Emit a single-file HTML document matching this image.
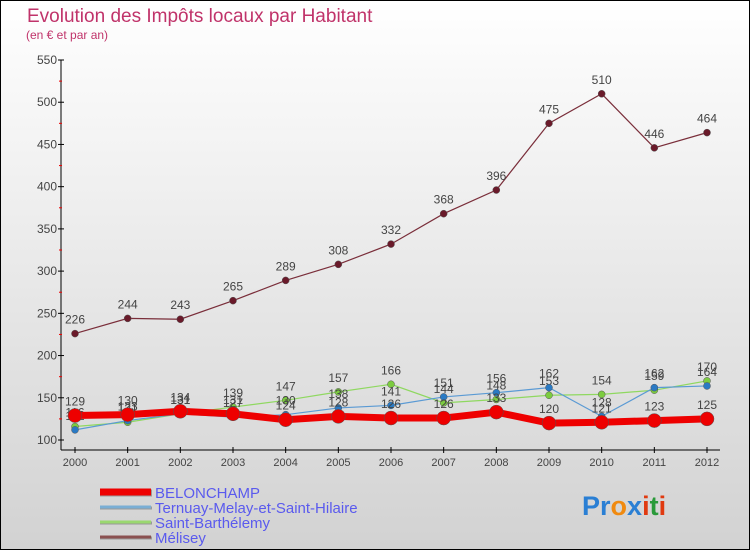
<!DOCTYPE html>
<html><head><meta charset="utf-8"><style>
body{margin:0;}
svg{display:block;font-family:"Liberation Sans",sans-serif;}
</style></head><body>
<svg id="chart" width="750" height="550" viewBox="0 0 750 550">
<defs><linearGradient id="bg" x1="0" y1="0" x2="0" y2="1"><stop offset="0" stop-color="#ffffff"/><stop offset="1" stop-color="#d2d2d2"/></linearGradient></defs>
<rect x="0.5" y="0.5" width="749" height="549" fill="url(#bg)" stroke="#000"/>
<text x="27" y="22" font-size="19" fill="#c0336a">Evolution des Impôts locaux par Habitant</text>
<text x="26" y="39" font-size="12" fill="#c0336a">(en € et par an)</text>
<g id="axes"></g>
<g id="series"></g>
<g id="legend"></g>
<text x="582" y="515" font-size="27" font-weight="bold"><tspan fill="#2a7fd4">Pr</tspan><tspan fill="#f08a10">o</tspan><tspan fill="#2a7fd4">x</tspan><tspan fill="#e03a10">i</tspan><tspan fill="#2a9a3a">t</tspan><tspan fill="#e03a10">i</tspan></text>
</svg>
<script>
const years=[2000,2001,2002,2003,2004,2005,2006,2007,2008,2009,2010,2011,2012];
const belonchamp=[129,130,134,131,124,128,126,126,133,120,121,123,125];
const ternuay=[112,123,131,127,130,138,141,151,156,162,128,162,164];
const barthelemy=[116,121,131,139,147,157,166,144,148,153,154,159,170];
const melisey=[226,244,243,265,289,308,332,368,396,475,510,446,464];
const yTicks=[100,150,200,250,300,350,400,450,500,550];
const NS="http://www.w3.org/2000/svg";
const x=i=>75+i*(707-75)/12;
const y=v=>440-(v-100)*380/450;
function mk(t,a,p){const e=document.createElementNS(NS,t);for(const k in a)e.setAttribute(k,a[k]);p.appendChild(e);return e;}
const ax=document.getElementById('axes');
let l=mk('line',{x1:61,y1:60,x2:61,y2:450,stroke:'#000'},ax);


l=mk('line',{x1:61,y1:450,x2:720,y2:450,stroke:'#000'},ax);


yTicks.forEach((v,i)=>{
 mk('line',{x1:58,y1:y(v),x2:64,y2:y(v),stroke:'#000'},ax);
 if(i<yTicks.length-1)mk('line',{x1:59,y1:y(v+25),x2:62,y2:y(v+25),stroke:'#e00'},ax);
 const t=mk('text',{x:57,y:y(v)+4,'font-size':12,fill:'#444','text-anchor':'end'},ax);t.textContent=v;
 
 
});
years.forEach((yr,i)=>{
 mk('line',{x1:x(i),y1:447,x2:x(i),y2:453,stroke:'#000'},ax);
 const t=mk('text',{x:x(i),y:466,'font-size':11,fill:'#444','text-anchor':'middle'},ax);t.textContent=yr;
 
 
});
const sg=document.getElementById('series');
function draw(data,color,w,r,name,fill){
 const g=mk('g',{},sg);
 
 
 mk('polyline',{points:data.map((v,i)=>x(i)+','+y(v)).join(' '),fill:'none',stroke:color,'stroke-width':w},g);
 data.forEach((v,i)=>{
  const c=mk('circle',{cx:x(i),cy:y(v),r:r,fill:fill,stroke:'#555','stroke-width':0.5},g);
  
  
  const t=mk('text',{x:x(i),y:y(v)-10,'font-size':12,fill:'#444','text-anchor':'middle'},g);t.textContent=v;
 });
}
draw(melisey,'#7a2e3a',1.2,3.5,'series-melisey','#6a1a2a');
draw(barthelemy,'#8fd860',1.2,3.5,'series-saint-barthelemy','#7ccc40');
draw(ternuay,'#5a9ad4',1.2,3.5,'series-ternuay','#2a7ac4');
draw(belonchamp,'#ee0000',7,7,'series-belonchamp','#ee0000');
const lg=document.getElementById('legend');
const items=[['BELONCHAMP','#ee0000',7],['Ternuay-Melay-et-Saint-Hilaire','#7aaed4',3],['Saint-Barthélemy','#9ad870',3],['Mélisey','#8a5050',3]];
items.forEach((it,i)=>{
 const yy=492+i*15;
 const g=mk('g',{},lg);
 
 
 mk('line',{x1:100,y1:yy+1,x2:152,y2:yy+1,stroke:'#999','stroke-width':it[2]},g);
 mk('line',{x1:100,y1:yy,x2:151,y2:yy,stroke:it[1],'stroke-width':it[2]},g);
 const t=mk('text',{x:155,y:yy+6,'font-size':15,fill:'#5a5aee'},g);t.textContent=it[0];
});
</script>
</body></html>
